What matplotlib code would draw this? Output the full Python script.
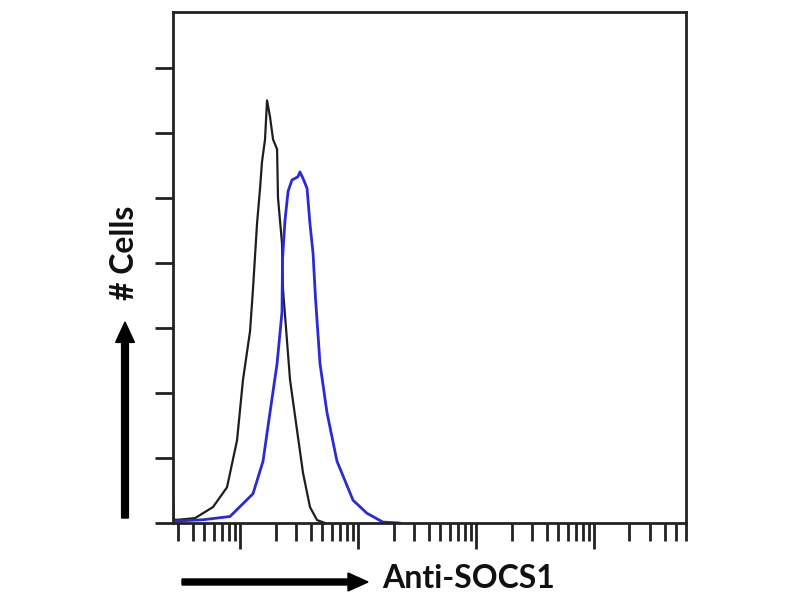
import numpy as np
import matplotlib
matplotlib.use('Agg')
import matplotlib.pyplot as plt
from matplotlib.ticker import LogLocator, NullFormatter, MultipleLocator

# isotype control (black) - log10 intensity, cell count
ctrl_log = [0.432, 0.44, 0.475, 0.619, 0.771, 0.89, 0.975, 1.025, 1.085, 1.11, 1.144, 1.17,
            1.186, 1.212, 1.229, 1.254, 1.28, 1.314, 1.322, 1.356, 1.364, 1.424, 1.483,
            1.534, 1.593, 1.653, 1.72]
ctrl_cnt = [8, 1, 1, 1.5, 4.9, 11, 25.5, 44, 59, 72, 92, 103,
            111, 118, 130, 125, 118, 115, 100, 86, 72, 44, 28.6,
            15.4, 4.9, 0.9, 0]

# anti-SOCS1 (blue)
socs_log = [0.45, 0.686, 0.915, 1.11, 1.195, 1.254, 1.314, 1.356, 1.36, 1.381, 1.407,
            1.44, 1.49, 1.508, 1.534, 1.568, 1.593, 1.619, 1.64, 1.678, 1.737, 1.822,
            1.958, 2.076, 2.21, 2.35]
socs_cnt = [0.6, 1, 2, 9, 19, 34, 49, 65, 81, 93, 102,
            105.5, 106.5, 108, 106, 103, 92, 83, 69, 49, 34, 19,
            7, 3, 0.3, 0]

ctrl_x = 10 ** np.array(ctrl_log)
socs_x = 10 ** np.array(socs_log)

fig = plt.figure(figsize=(8, 6), dpi=100)
ax = fig.add_axes([0.21625, 0.12833, 0.64125, 0.85167])

ax.plot(ctrl_x, ctrl_cnt, color='#1e1e1e', lw=1.6)
ax.plot(socs_x, socs_cnt, color='#2b2bd6', lw=2.0)

ax.set_xscale('log')
ax.set_xlim(10 ** 0.432, 10 ** 4.78)
ax.set_ylim(0, 157.2)
ax.xaxis.set_major_locator(LogLocator(base=10, numticks=10))
ax.xaxis.set_minor_locator(LogLocator(base=10, subs=np.arange(2, 10), numticks=20))
ax.xaxis.set_major_formatter(NullFormatter())
ax.xaxis.set_minor_formatter(NullFormatter())
ax.yaxis.set_major_locator(MultipleLocator(20))
ax.set_yticklabels([])

for s in ax.spines.values():
    s.set_linewidth(2)
    s.set_color('#222222')
ax.tick_params(axis='x', which='major', direction='out', length=19, width=2, color='#222222')
ax.tick_params(axis='x', which='minor', direction='out', length=13, width=2, color='#222222')
ax.tick_params(axis='y', which='major', direction='out', length=13, width=2, color='#222222')

fnt = dict(family=['Lato', 'DejaVu Sans'], weight='bold', size=23, color='#111111')

# vertical arrow with "# Cells"
fig.patches.append(matplotlib.patches.FancyArrow(
    125 / 800, 1 - 518 / 600, 0, (518 - 322) / 600, width=0.0085,
    head_width=0.0235, head_length=0.034, length_includes_head=True,
    color='black', transform=fig.transFigure, figure=fig))
fig.text(125 / 800, 1 - 253 / 600, '# Cells', rotation=90, ha='center', va='center', **fnt)

# horizontal arrow with "Anti-SOCS1"
fig.patches.append(matplotlib.patches.FancyArrow(
    182 / 800, 1 - 582 / 600, (368 - 182) / 800, 0, width=0.01,
    head_width=0.03, head_length=0.025, length_includes_head=True,
    color='black', transform=fig.transFigure, figure=fig))
fig.text(382 / 800, 1 - 578 / 600, 'Anti-SOCS1', ha='left', va='center', **fnt)

fig.savefig('out.png', dpi=100)
